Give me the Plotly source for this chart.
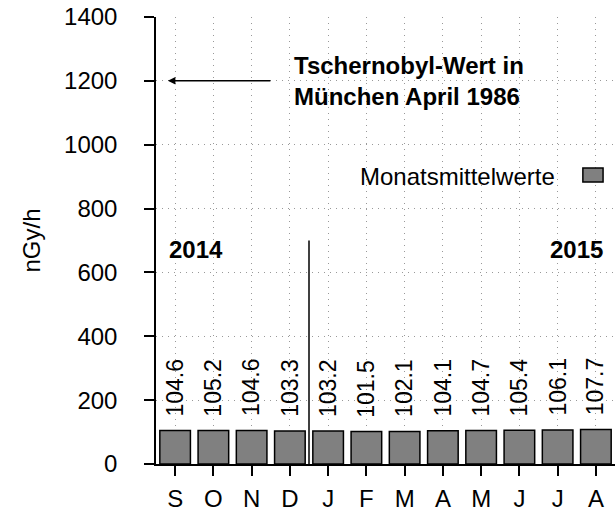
import plotly.graph_objects as go

months = ["S", "O", "N", "D", "J", "F", "M", "A", "M", "J", "J", "A"]
values = [104.6, 105.2, 104.6, 103.3, 103.2, 101.5, 102.1, 104.1, 104.7, 105.4, 106.1, 107.7]
y_ticks = [0, 200, 400, 600, 800, 1000, 1200, 1400]
chernobyl_value = 1200
year_split = 3.5
legend_name = "Monatsmittelwerte"

FONT = "Liberation Sans, Arial, sans-serif"
xs = list(range(len(months)))

fig = go.Figure()
fig.add_trace(go.Bar(
    x=xs, y=values, width=0.8, name=legend_name,
    marker=dict(color="#808080", line=dict(color="black", width=1.5)),
    showlegend=False,
))

# value labels above bars
for x, v in zip(xs, values):
    fig.add_annotation(x=x, y=v + 38, xref="x", yref="y", text=f"{v:.1f}",
                       textangle=-90, showarrow=False, xanchor="center", yanchor="bottom",
                       font=dict(family=FONT, size=23, color="black"))

# Chernobyl arrow
fig.add_annotation(x=-0.19, y=chernobyl_value, ax=2.53, ay=chernobyl_value,
                   xref="x", yref="y", axref="x", ayref="y", text="",
                   showarrow=True, arrowhead=2, arrowsize=1, arrowwidth=1.5, arrowcolor="black")
fig.add_annotation(x=0.2963, y=chernobyl_value, xref="paper", yref="y",
                   text="<b>Tschernobyl-Wert in<br>München April 1986</b>",
                   showarrow=False, xanchor="left", yanchor="middle", align="left",
                   font=dict(family=FONT, size=24, color="black"))

# year labels
fig.add_annotation(x=0.024, y=672, xref="paper", yref="y", text="<b>2014</b>",
                   showarrow=False, xanchor="left", yanchor="middle",
                   font=dict(family=FONT, size=24, color="black"))
fig.add_annotation(x=0.978, y=672, xref="paper", yref="y", text="<b>2015</b>",
                   showarrow=False, xanchor="right", yanchor="middle",
                   font=dict(family=FONT, size=24, color="black"))

# year separator
fig.add_shape(type="line", x0=year_split, x1=year_split, y0=0, y1=700,
              xref="x", yref="y", line=dict(color="black", width=1.5))

# custom legend (symbol on the right)
fig.add_annotation(x=0.8736, y=899, xref="paper", yref="y", text=legend_name,
                   showarrow=False, xanchor="right", yanchor="middle",
                   font=dict(family=FONT, size=24, color="black"))
fig.add_shape(type="rect", x0=0.930, x1=0.974, y0=883, y1=927, xref="paper", yref="y",
              fillcolor="#808080", line=dict(color="black", width=1.5))

fig.update_layout(
    width=615, height=511,
    margin=dict(l=156, r=0, t=17, b=47),
    plot_bgcolor="white", paper_bgcolor="white",
    font=dict(family=FONT, size=24, color="black"),
    bargap=0.2,
)
fig.update_xaxes(
    range=[-0.5, 11.5], tickvals=xs, ticktext=months,
    showline=True, linecolor="black", linewidth=1.5,
    ticks="outside", ticklen=10, tickwidth=1.5, tickcolor="black",
    showgrid=True, gridcolor="#999999", griddash="1px,5px", gridwidth=1,
    ticklabelstandoff=2, zeroline=False, automargin=False,
    tickfont=dict(family=FONT, size=24, color="black"),
)
fig.update_yaxes(
    range=[0, 1400], tickvals=y_ticks,
    showline=True, linecolor="black", linewidth=1.5,
    ticks="outside", ticklen=10, tickwidth=1.5, tickcolor="black",
    showgrid=True, gridcolor="#999999", griddash="1px,5px", gridwidth=1,
    ticklabelstandoff=22, zeroline=False, automargin=False,
    tickfont=dict(family=FONT, size=24, color="black"),
    title=dict(text="nGy/h", standoff=17, font=dict(family=FONT, size=24, color="black")),
)

fig.write_html("out.html", config={"displayModeBar": False},
               post_script="document.body.style.margin='0';document.body.style.overflow='hidden';")
